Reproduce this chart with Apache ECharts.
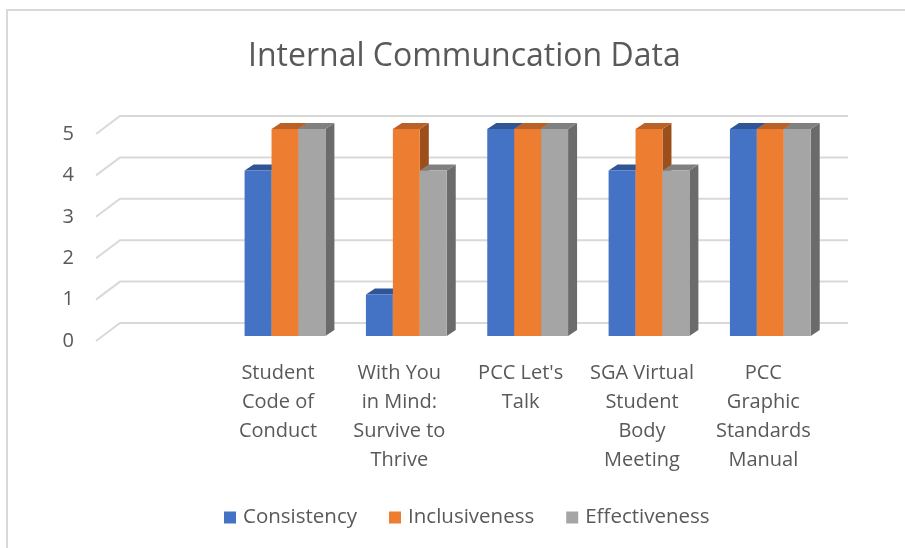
<!DOCTYPE html>
<html>
<head>
<meta charset="utf-8">
<script src="https://cdn.jsdelivr.net/npm/echarts@6/dist/echarts.min.js"></script>
<style>
  html, body { margin: 0; padding: 0; background: #fff; }
  #main { width: 905px; height: 548px; }
</style>
</head>
<body>
<div id="main"></div>
<script>
// chart data
const categories = ['', 'Student\nCode of\nConduct', 'With You\nin Mind:\nSurvive to\nThrive', "PCC Let's\nTalk",
  'SGA Virtual\nStudent\nBody\nMeeting', 'PCC\nGraphic\nStandards\nManual'];
const consistency = [null, 4, 1, 5, 4, 5];
const inclusiveness = [null, 5, 5, 5, 5, 5];
const effectiveness = [null, 5, 4, 5, 4, 5];
const yTicks = [0, 1, 2, 3, 4, 5];

const FONT = 'Open Sans';
const TEXT = '#595959';
// 3d look: floor depth and bar depth
const WALL_DX = 24, WALL_DY = 18;
const BAR_SHIFT_X = 7, BAR_SHIFT_Y = 5;
const BAR_DX = 9, BAR_DY = 6;

const palette = [
  { front: '#4472C4', top: '#2F5597', side: '#2B4E8C' },
  { front: '#ED7D31', top: '#BA6127', side: '#9C4E1B' },
  { front: '#A5A5A5', top: '#808080', side: '#6B6B6B' }
];

const myChart = echarts.init(document.getElementById('main'));

function barRenderer(sIdx) {
  return function (params, api) {
    const val = api.value(1);
    if (val == null || isNaN(val)) return;
    const idx = api.value(0);
    const top = api.coord([idx, val]);
    const base = api.coord([idx, 0]);
    const band = api.size([1, 0])[0];
    const bw = band * 0.222;
    const x0 = top[0] - bw * 1.5 + sIdx * bw + BAR_SHIFT_X;
    const x1 = x0 + bw;
    const yT = top[1] - BAR_SHIFT_Y;
    const yB = base[1] - BAR_SHIFT_Y;
    const c = palette[sIdx];
    return {
      type: 'group',
      children: [
        { type: 'polygon', shape: { points: [[x1, yT], [x1 + BAR_DX, yT - BAR_DY], [x1 + BAR_DX, yB - BAR_DY], [x1, yB]] }, style: { fill: c.side } },
        { type: 'polygon', shape: { points: [[x0, yT], [x0 + BAR_DX, yT - BAR_DY], [x1 + BAR_DX, yT - BAR_DY], [x1, yT]] }, style: { fill: c.top } },
        { type: 'rect', shape: { x: x0, y: yT, width: bw, height: yB - yT }, style: { fill: c.front } }
      ]
    };
  };
}

function toPairs(arr) {
  return arr.map((v, i) => [i, v]);
}

const option = {
  animation: false,
  backgroundColor: '#fff',
  textStyle: { fontFamily: FONT },
  graphic: [
    { type: 'rect', shape: { x: 7, y: 10, width: 1000, height: 1000 }, style: { fill: 'none', stroke: '#d9d9d9', lineWidth: 2 }, silent: true }
  ],
  title: {
    text: 'Internal Communcation Data',
    left: 243,
    top: 36,
    textStyle: { fontFamily: FONT, fontSize: 32, fontWeight: 'normal', color: TEXT }
  },
  legend: {
    bottom: 15,
    left: 219,
    icon: 'rect',
    itemWidth: 12,
    itemHeight: 12,
    itemGap: 32,
    textStyle: { fontFamily: FONT, fontSize: 20.5, color: TEXT, padding: [0, 0, 0, 2] },
    data: ['Consistency', 'Inclusiveness', 'Effectiveness']
  },
  grid: { left: 96, right: 81, top: 134, bottom: 207 },
  xAxis: {
    type: 'category',
    data: categories,
    axisLine: { show: false },
    axisTick: { show: false },
    axisLabel: {
      interval: 0,
      margin: 18,
      fontFamily: FONT,
      fontSize: 20,
      lineHeight: 29,
      color: TEXT
    }
  },
  yAxis: {
    type: 'value',
    min: 0,
    max: 5,
    interval: 1,
    axisLine: { show: false },
    axisTick: { show: false },
    splitLine: { show: false },
    axisLabel: { margin: 22, fontFamily: FONT, fontSize: 20, color: TEXT, padding: [4, 0, 0, 0] }
  },
  series: [
    {
      name: 'walls',
      type: 'custom',
      silent: true,
      z: 1,
      data: yTicks.map(v => [0, v]),
      renderItem: function (params, api) {
        const cs = params.coordSys;
        const y = api.coord([0, api.value(1)])[1];
        return {
          type: 'polyline',
          shape: { points: [[cs.x, y], [cs.x + WALL_DX, y - WALL_DY], [cs.x + cs.width + WALL_DX, y - WALL_DY]] },
          style: { stroke: '#d9d9d9', lineWidth: 2, fill: 'none' }
        };
      }
    },
    { name: 'Consistency', type: 'custom', z: 2, itemStyle: { color: palette[0].front }, data: toPairs(consistency), renderItem: barRenderer(0) },
    { name: 'Inclusiveness', type: 'custom', z: 3, itemStyle: { color: palette[1].front }, data: toPairs(inclusiveness), renderItem: barRenderer(1) },
    { name: 'Effectiveness', type: 'custom', z: 4, itemStyle: { color: palette[2].front }, data: toPairs(effectiveness), renderItem: barRenderer(2) }
  ]
};

option && myChart.setOption(option);
</script>
</body>
</html>
